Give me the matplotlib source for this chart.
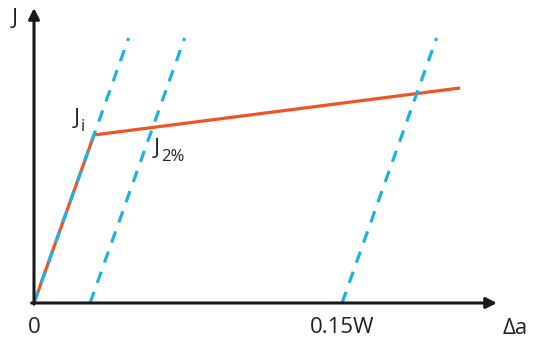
import matplotlib.pyplot as plt

# crack growth axis (fraction of W) and J values, arbitrary units
knee_da = 0.0292
knee_J = 168
end_da = 0.2075
end_J = 215
offsets = [0.0, 0.0273, 0.15]    # blunting-line offsets
line_top_J = 265
slope = knee_J / knee_da
x_tip = 0.2255
y_tip = 295
tick_pos = [0.0, 0.15]
tick_labels = ['0', '0.15W']

orange = '#EF5427'
blue = '#1DB3E1'
ink = '#222222'
font = ['Open Sans', 'DejaVu Sans']

fig = plt.figure(figsize=(5.37, 3.44), dpi=100)
ax = fig.add_axes([0, 0, 1, 1])
sx = 0.15 / 308
ax.set_xlim(-34 * sx, 503 * sx)
ax.set_ylim(-41, 303)
ax.axis('off')

# J-R curve
ax.plot([0, knee_da, end_da], [0, knee_J, end_J], color=orange, lw=2.3,
        solid_capstyle='butt', zorder=2)

# blunting / offset lines
for off in offsets:
    ax.plot([off, off + line_top_J / slope], [0, line_top_J], color=blue,
            lw=2.3, dashes=(3.7, 3.0), zorder=3)

# axes with arrows
ax.annotate('', xy=(x_tip, 0), xytext=(-0.0012, 0),
            arrowprops=dict(arrowstyle='-|>', color='#1a1a1a', lw=2.2,
                            mutation_scale=16, shrinkA=0, shrinkB=0))
ax.annotate('', xy=(0, y_tip), xytext=(0, -1.2),
            arrowprops=dict(arrowstyle='-|>', color='#1a1a1a', lw=2.2,
                            mutation_scale=16, shrinkA=0, shrinkB=0))

for p, t in zip(tick_pos, tick_labels):
    ax.text(p, -14, t, ha='center', va='top', fontsize=16, family=font,
            color=ink)

ax.text(-19 * sx, 285, 'J', ha='center', va='center', fontsize=16,
        family=font, color=ink)
ax.text(481 * sx, -26, 'Δa', ha='center', va='center', fontsize=16,
        family=font, color=ink)

# J_i and J_2% labels, subscripts drawn as separate smaller text
ax.text(43 * sx, 185, 'J', ha='center', va='center', fontsize=16,
        family=font, color=ink)
ax.text(47 * sx, 176, 'i', ha='left', va='center', fontsize=12,
        family=font, color=ink)
ax.text(123 * sx, 155, 'J', ha='center', va='center', fontsize=16,
        family=font, color=ink)
ax.text(127 * sx, 146, '2%', ha='left', va='center', fontsize=12,
        family=font, color=ink)

fig.savefig('out.png', dpi=100)
